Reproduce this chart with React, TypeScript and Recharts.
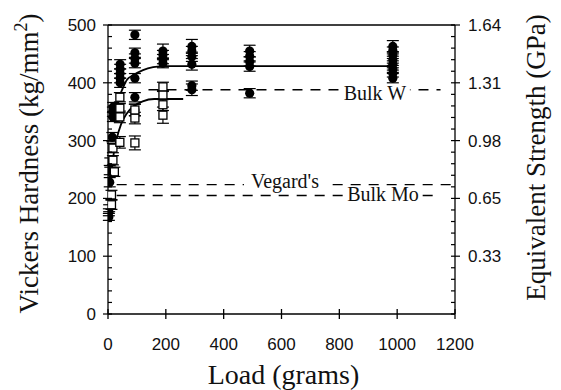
import {
  ComposedChart, Scatter, Line, XAxis, YAxis, ReferenceLine, ReferenceDot, ErrorBar
} from 'recharts';

// load (g) / hardness (kg/mm2) / error
const wLoad = [3, 3, 4, 6, 6, 8, 15, 17, 17, 18, 42, 42, 42, 42, 42, 93, 93, 93, 93, 93, 93, 93, 190, 190, 190, 190, 290, 290, 290, 290, 290, 290, 490, 490, 490, 490, 490, 985, 985, 985, 985, 985, 985, 985, 985];
const wHard = [168, 176, 183, 228, 249, 262, 306, 341, 350, 358, 400, 408, 416, 424, 432, 353, 375, 408, 434, 442, 452, 483, 434, 441, 448, 455, 388, 395, 432, 445, 455, 463, 382, 428, 437, 446, 455, 408, 416, 424, 432, 440, 448, 456, 463];
const wErr = [6, 6, 6, 8, 8, 8, 8, 8, 8, 8, 8, 8, 8, 8, 8, 10, 8, 8, 8, 8, 8, 8, 8, 8, 8, 12, 10, 8, 10, 8, 8, 12, 8, 8, 8, 8, 10, 8, 6, 6, 6, 6, 6, 6, 10];

const moLoad = [12, 12, 22, 17, 17, 41, 41, 41, 41, 93, 93, 93, 190, 190, 190, 190];
const moHard = [189, 206, 246, 266, 287, 297, 341, 356, 375, 296, 339, 353, 344, 362, 379, 393];
const moErr = [8, 8, 8, 8, 8, 10, 10, 8, 8, 12, 10, 10, 14, 10, 8, 8];

const wFitLoad = [40, 48, 65, 87, 121, 156, 200, 975];
const wFitHard = [378, 387, 405, 413, 422, 427, 429, 429];
const moFitLoad = [10, 20, 30, 45, 65, 90, 120, 160, 260];
const moFitHard = [240, 278, 303, 328, 347, 360, 368, 372, 372];

const xTicks = [0, 200, 400, 600, 800, 1000, 1200];
const yMajor = [0, 100, 200, 300, 400, 500];
const yMinor = [0, 20, 40, 60, 80, 100, 120, 140, 160, 180, 200, 220, 240, 260, 280, 300, 320, 340, 360, 380, 400, 420, 440, 460, 480, 500];
const gpaTicks = [100, 200, 300, 400, 500];
const gpaLabels = ['0.33', '0.65', '0.98', '1.31', '1.64'];

const bulkW = 388;
const bulkMo = 205;
const vegard = 224;

const wData = wLoad.map((x, i) => ({ x, y: wHard[i], err: wErr[i] }));
const moData = moLoad.map((x, i) => ({ x, y: moHard[i], err: moErr[i] }));
const wFit = wFitLoad.map((x, i) => ({ x, y: wFitHard[i] }));
const moFit = moFitLoad.map((x, i) => ({ x, y: moFitHard[i] }));

const serif = '"Liberation Serif", "Times New Roman", serif';
const sans = '"Liberation Sans", Arial, sans-serif';
const line = { stroke: '#000', strokeWidth: 1.3 };

// custom ticks: major ticks cross the axis, minor ticks point inward
const LeftTick = (p: any) => {
  const v = Number(p.payload.value);
  const x = Number(p.x);
  const y = Number(p.y);
  const ax = x + 12;
  const major = yMajor.includes(v);
  return (
    <g>
      <rect x={major ? ax - 5 : ax} y={y - 0.6} width={major ? 9 : 4} height={1.2} fill="#000" />
      {major && (
        <text x={x} y={y + 6} textAnchor="end" fontFamily={sans} fontSize={17} fill="#111">{v}</text>
      )}
    </g>
  );
};

const RightTick = (p: any) => {
  const v = Number(p.payload.value);
  const x = Number(p.x);
  const y = Number(p.y);
  const ax = x - 13;
  const i = gpaTicks.indexOf(v);
  return (
    <g>
      <rect x={ax - 4} y={y - 0.6} width={i >= 0 ? 9 : 4} height={1.2} fill="#000" />
      {i >= 0 && (
        <text x={x} y={y + 6} textAnchor="start" fontFamily={sans} fontSize={17} fill="#111">{gpaLabels[i]}</text>
      )}
    </g>
  );
};

const BottomTick = (p: any) => {
  const x = Number(p.x);
  const y = Number(p.y);
  const ay = y - 24;
  return (
    <g>
      <rect x={x - 0.65} y={ay - 5} width={1.3} height={10} fill="#000" />
      <text x={x} y={y + 12} textAnchor="middle" fontFamily={sans} fontSize={17} fill="#111">{p.payload.value}</text>
    </g>
  );
};

const Dot = (p: any) => <circle cx={p.cx} cy={p.cy} r={4.6} fill="#000" />;
const Box = (p: any) => (
  <rect x={p.cx - 4} y={p.cy - 4} width={8} height={8} fill="#fff" stroke="#000" strokeWidth={1.3} />
);

const tag = (txt: string, w: number) => (p: any) => {
  const vb = p.viewBox;
  const cx = vb.x + vb.width / 2;
  const cy = vb.y + vb.height / 2;
  return (
    <g>
      <rect x={cx - w / 2} y={cy - 8} width={w} height={16} fill="#fff" />
      <text x={cx} y={cy + 6.5} textAnchor="middle" fontFamily={serif} fontSize={20} fill="#111">{txt}</text>
    </g>
  );
};

const LeftTitle = (p: any) => {
  const vb = p.viewBox;
  const x = vb.x + 38;
  const y = vb.y + vb.height / 2 - 6;
  return (
    <text x={x} y={y} transform={`rotate(-90 ${x} ${y})`} textAnchor="middle" fontFamily={serif} fontSize={27} fill="#111">
      Vickers Hardness (kg/mm<tspan dy={-11} fontSize={18}>2</tspan><tspan dy={11}>)</tspan>
    </text>
  );
};

const RightTitle = (p: any) => {
  const vb = p.viewBox;
  const x = vb.x + 90;
  const y = vb.y + vb.height / 2 - 12;
  return (
    <text x={x} y={y} transform={`rotate(-90 ${x} ${y})`} textAnchor="middle" fontFamily={serif} fontSize={27} fill="#111">
      Equivalent Strength (GPa)
    </text>
  );
};

const BottomTitle = (p: any) => {
  const vb = p.viewBox;
  return (
    <text x={vb.x + vb.width / 2 + 2} y={384} textAnchor="middle" fontFamily={serif} fontSize={28} fill="#111">
      Load (grams)
    </text>
  );
};

export default function App() {
  return (
    <div style={{ position: 'absolute', left: 0, top: 0, background: '#fff' }}>
      <ComposedChart width={561} height={390} margin={{ top: 25, right: 0, bottom: 0, left: 0 }}>
        <XAxis
          type="number" dataKey="x" domain={[0, 1200]} ticks={xTicks} allowDataOverflow interval={0}
          height={76} tickSize={5} tickMargin={19} tick={BottomTick}
          axisLine={line} tickLine={false} label={BottomTitle}
        />
        <YAxis
          type="number" domain={[0, 500]} ticks={yMinor} allowDataOverflow width={108} interval={0}
          tickSize={5} tickMargin={7} tick={LeftTick}
          axisLine={line} tickLine={false} label={LeftTitle}
        />
        <YAxis
          yAxisId="r" orientation="right" type="number" domain={[0, 500]} ticks={yMinor} allowDataOverflow width={106} interval={0}
          tickSize={5} tickMargin={8} tick={RightTick}
          axisLine={line} tickLine={false} label={RightTitle}
        />

        <ReferenceLine y={500} stroke="#000" strokeWidth={1.3} />
        <ReferenceLine segment={[{ x: 140, y: bulkW }, { x: 1150, y: bulkW }]} stroke="#000" strokeWidth={1.3} strokeDasharray="10 8" />
        <ReferenceLine segment={[{ x: 30, y: vegard }, { x: 1200, y: vegard }]} stroke="#000" strokeWidth={1.3} strokeDasharray="10 8" />
        <ReferenceLine segment={[{ x: 30, y: bulkMo }, { x: 1140, y: bulkMo }]} stroke="#000" strokeWidth={1.3} strokeDasharray="10 8" />

        <Line data={wFit} dataKey="y" type="monotone" stroke="#000" strokeWidth={1.8} dot={false} isAnimationActive={false} />
        <Line data={moFit} dataKey="y" type="monotone" stroke="#000" strokeWidth={1.8} dot={false} isAnimationActive={false} />

        <Scatter data={wData} dataKey="y" shape={Dot} isAnimationActive={false}>
          <ErrorBar dataKey="err" direction="y" width={6} stroke="#000" strokeWidth={1.2} />
        </Scatter>
        <Scatter data={moData} dataKey="y" shape={Box} isAnimationActive={false}>
          <ErrorBar dataKey="err" direction="y" width={6} stroke="#000" strokeWidth={1.2} />
        </Scatter>

        <ReferenceDot x={923} y={381} r={0} fill="none" stroke="none" label={tag('Bulk W', 70)} />
        <ReferenceDot x={612} y={230} r={0} fill="none" stroke="none" label={tag("Vegard's", 82)} />
        <ReferenceDot x={951} y={206} r={0} fill="none" stroke="none" label={tag('Bulk Mo', 74)} />
      </ComposedChart>
    </div>
  );
}
